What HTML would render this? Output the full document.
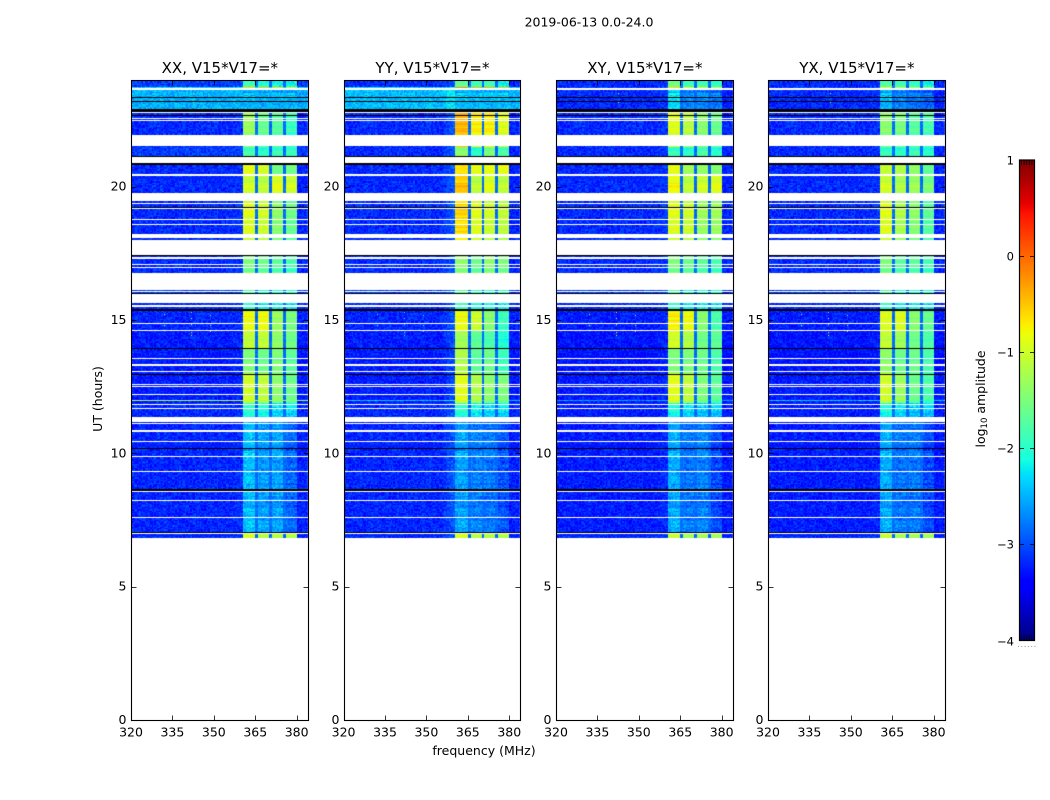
<!DOCTYPE html>
<html lang="en">
<head>
<meta charset="utf-8">
<title>2019-06-13 0.0-24.0</title>
<style>
html,body{margin:0;padding:0;background:#fff;width:1050px;height:800px;overflow:hidden}
#figure{position:relative;width:1050px;height:800px}
canvas{position:absolute;display:block}
svg{position:absolute;left:0;top:0}
text{font-family:"DejaVu Sans","Liberation Sans",sans-serif;fill:#000}
</style>
</head>
<body>
<div id="figure">
<svg id="overlay" width="1050" height="800"></svg>
</div>
<script>
/* ---------- chart values ---------- */
const panelTitles = ['XX, V15*V17=*','YY, V15*V17=*','XY, V15*V17=*','YX, V15*V17=*'];
const freqTicks = [320,335,350,365,380];
const utTicks = [0,5,10,15,20];
const colorbarTicks = [-4,-3,-2,-1,0,1];
const channelWidthMHz = 0.5;
const rowHours = 0.05;
const dataStartUT = 6.825;
const dataEndUT = 24;
const bandStartMHz = [360.5,365.75,370.75,375.75];
const bandEndMHz = [365,370,375,380];
const gapLevel = -2.85;
const shoulderGain = [0.03,0.15,0.05,0.03];

/* top edge (UT) of each observing epoch */
const epochTopUT = [24,23.775,23.69,22.76,21.525,20.88,20.44,19.75,17.4,16.125,15.64,15.41,14.59,13.91,12.975,11.89,11.36,7.0];

/* per epoch: background log10 amplitude, then the four bright sub-bands */
const levelsXX = [
[-3.08,-1.9,-2.1,-2.2,-2.2],[-2.3,-0.6,-0.5,-0.6,-1.0],[-2.5,-2.7,-2.6,-2.7,-2.7],[-3.18,-1.3,-1.6,-1.7,-1.9],
[-3.08,-1.8,-2.0,-1.9,-1.9],[-3.18,-0.9,-1.0,-1.6,-1.6],[-3.18,-1.0,-1.1,-0.9,-1.0],[-3.18,-0.9,-1.0,-1.4,-1.6],
[-3.18,-1.5,-1.6,-1.7,-1.8],[-3.08,-1.8,-2.0,-2.0,-2.0],[-3.18,-2.0,-2.2,-2.2,-2.3],[-3.2,-0.8,-0.8,-1.3,-1.5],
[-3.25,-1.1,-1.1,-1.4,-1.6],[-3.25,-1.5,-1.6,-1.5,-1.7],[-3.25,-1.0,-1.1,-1.4,-1.6],[-3.18,-2.0,-2.1,-2.3,-2.3],
[-3.2,-2.45,-2.6,-2.6,-2.9],[-3.18,-0.9,-1.1,-1.1,-1.1]];
const levelsYY = [
[-3.18,-1.7,-1.9,-1.9,-2.2],[-2.3,-0.2,-0.4,-0.4,-0.5],[-2.45,-2.7,-2.7,-2.7,-2.8],[-3.18,-0.4,-0.7,-0.7,-0.9],
[-3.18,-1.4,-2.0,-1.5,-1.8],[-3.18,-0.7,-0.9,-0.9,-0.9],[-3.18,-0.5,-1.1,-0.9,-1.1],[-3.18,-0.6,-0.9,-1.0,-1.1],
[-3.18,-1.4,-1.6,-1.4,-1.5],[-3.08,-1.7,-1.9,-1.9,-1.9],[-3.18,-1.9,-2.1,-2.1,-2.2],[-3.2,-0.8,-1.0,-1.4,-1.9],
[-3.25,-1.3,-1.7,-1.8,-2.1],[-3.25,-1.2,-1.7,-1.6,-1.9],[-3.25,-0.9,-1.2,-1.4,-1.5],[-3.18,-2.0,-2.2,-2.3,-2.3],
[-3.2,-2.6,-2.75,-2.8,-3.0],[-3.18,-0.9,-1.1,-1.1,-1.1]];
const levelsXY = [
[-3.18,-1.6,-1.9,-1.9,-2.0],[-3.08,-0.6,-0.9,-1.0,-1.0],[-3.18,-2.3,-2.7,-2.7,-2.8],[-3.18,-0.9,-1.1,-1.4,-1.6],
[-3.18,-1.9,-2.0,-1.8,-2.0],[-3.18,-0.9,-1.3,-1.4,-1.5],[-3.18,-0.8,-1.1,-1.0,-0.9],[-3.18,-0.9,-1.0,-1.3,-1.3],
[-3.18,-1.5,-1.6,-1.7,-1.8],[-3.08,-1.8,-2.0,-2.0,-2.0],[-3.18,-2.0,-2.2,-2.2,-2.3],[-3.25,-0.7,-0.8,-1.4,-1.8],
[-3.3,-1.0,-1.2,-1.6,-1.7],[-3.3,-1.5,-1.5,-1.6,-1.8],[-3.25,-0.9,-1.1,-1.5,-1.7],[-3.25,-2.1,-2.3,-2.4,-2.4],
[-3.25,-2.55,-2.8,-2.75,-3.05],[-3.18,-1.0,-1.2,-1.2,-1.2]];
const levelsYX = [
[-3.18,-1.8,-1.9,-2.0,-2.2],[-3.08,-0.9,-1.1,-1.2,-1.2],[-3.18,-2.5,-2.7,-2.8,-2.9],[-3.18,-1.4,-1.5,-1.7,-1.8],
[-3.18,-1.9,-2.0,-1.9,-2.0],[-3.18,-1.1,-1.2,-1.4,-1.7],[-3.18,-1.0,-1.2,-1.3,-1.5],[-3.18,-0.9,-1.2,-1.4,-1.7],
[-3.18,-1.5,-1.7,-1.7,-1.8],[-3.08,-1.8,-2.0,-2.0,-2.0],[-3.18,-2.0,-2.2,-2.2,-2.3],[-3.25,-0.9,-0.9,-1.4,-1.6],
[-3.3,-1.1,-1.3,-1.6,-1.8],[-3.3,-1.4,-1.6,-1.6,-1.8],[-3.25,-1.0,-1.3,-1.6,-1.8],[-3.25,-2.1,-2.3,-2.4,-2.4],
[-3.25,-2.55,-2.8,-2.8,-3.05],[-3.18,-1.0,-1.2,-1.2,-1.2]];

/* flagged time ranges: top UT, bottom UT, w = blank, b = zero amplitude */
const flagRanges = [
[23.689,23.625,'w'],[23.374,23.351,'b'],[23.224,23.201,'b'],[22.913,22.811,'b'],[22.811,22.751,'w'],[22.706,22.68,'b'],
[22.575,22.545,'w'],[22.515,22.485,'w'],[21.938,21.525,'w'],[21.15,21.094,'b'],[21.094,20.876,'w'],[20.876,20.824,'b'],
[20.475,20.4,'w'],[19.751,19.463,'w'],[19.399,19.339,'w'],[19.23,19.204,'b'],[19.204,19.151,'w'],[18.799,18.761,'w'],
[18.6,18.563,'w'],[18.225,18.064,'w'],[18.0,17.438,'w'],[17.438,17.4,'b'],[17.351,17.288,'w'],[17.1,17.063,'w'],
[16.988,16.939,'w'],[16.751,16.125,'w'],[16.088,16.043,'w'],[16.001,15.975,'b'],[15.975,15.638,'w'],[15.555,15.506,'w'],
[15.413,15.349,'b'],[14.899,14.861,'w'],[14.625,14.588,'w'],[13.939,13.913,'b'],[13.564,13.526,'w'],[13.35,13.286,'w'],
[13.088,13.05,'w'],[12.975,12.949,'b'],[12.611,12.574,'w'],[12.525,12.488,'w'],[12.214,12.176,'w'],[11.85,11.813,'w'],
[11.711,11.674,'w'],[11.374,11.186,'w'],[11.149,11.089,'w'],[10.875,10.789,'w'],[10.463,10.425,'w'],[10.189,10.151,'b'],
[9.911,9.874,'w'],[9.338,9.3,'w'],[8.651,8.599,'b'],[8.599,8.55,'w'],[8.25,8.213,'w'],[7.613,7.575,'w'],[7.05,7.001,'b'],[7.001,6.964,'w']];

/* a single interference-heavy row near 12 UT */
const hotRowTopUT = 12.0;
const hotRowBottomUT = 11.94;
const hotRowLevel = [-1.3,-2.4,-2.6,-2.4];

/* isolated interference spots */
const spotFreq = [341.7,341.7,341.7,341.7,341.7,332,332,348.6,348.6,348.6,342.4,342.4];
const spotUT = [15.3,15.075,14.85,14.55,14.44,15.225,14.81,15.19,14.81,14.59,23.51,23.17];
const spotLevel = [-1.2,-2.0,-0.9,-1.2];

/* hand-typed fine-grain texture: the per-cell noise is approximated, not read cell by cell */
const grainTable = [
0.12,-0.31,0.05,0.38,-0.14,-0.42,0.22,0.01,-0.27,0.33,-0.08,0.17,-0.36,0.29,-0.02,0.09,-0.19,0.41,-0.33,0.07,
-0.11,0.26,-0.44,0.15,0.35,-0.24,0.03,-0.06,0.19,-0.38,0.31,-0.16,0.11,0.44,-0.29,-0.04,0.24,-0.21,0.02,0.37,
-0.35,0.13,-0.09,0.28,-0.41,0.06,0.21,-0.26,0.39,-0.13,-0.01,0.16,-0.32,0.08,0.34,-0.18,-0.46,0.25,0.04,-0.23,
0.32,-0.07,0.18,-0.39,0.1,0.27,-0.12];

/* ---------- layout and scales ---------- */
const panelLeft = [131,343.6,556,768];
const panelWidth = 176.7;
const plotTop = 80;
const plotBottom = 720;
const allLevels = [levelsXX,levelsYY,levelsXY,levelsYX];
const slugs = ['xx','yy','xy','yx'];
const SVGNS = 'http://www.w3.org/2000/svg';
const overlay = document.getElementById('overlay');
const figure = document.getElementById('figure');

function xScale(i,f){return panelLeft[i]+(f-320)/64*panelWidth;}
function yScale(u){return plotBottom-u/24*(plotBottom-plotTop);}
function cbarScale(v){return 640.5-(v+4)/5*480.5;}

function lerpStops(xs,ys,t){
  for(let k=1;k<xs.length;k++){
    if(t<=xs[k]){return ys[k-1]+(ys[k]-ys[k-1])*(t-xs[k-1])/(xs[k]-xs[k-1]);}
  }
  return ys[ys.length-1];
}
function jet(v){
  const t=Math.max(0,Math.min(1,(v+4)/5));
  const r=lerpStops([0,0.35,0.66,0.89,1],[0,0,1,1,0.5],t);
  const g=lerpStops([0,0.125,0.375,0.64,0.91,1],[0,0,1,1,0,0],t);
  const b=lerpStops([0,0.11,0.34,0.65,1],[0.5,1,1,0,0],t);
  return 'rgb('+Math.round(r*255)+','+Math.round(g*255)+','+Math.round(b*255)+')';
}
function epochIndex(u){
  let e=0;
  for(let k=0;k<epochTopUT.length;k++){if(u<=epochTopUT[k]){e=k;}}
  return e;
}
function grain(c,r){
  return grainTable[(c*37+r*r*11+c*r*5)%grainTable.length];
}
function cellValue(p,f,c,r,u){
  const row=allLevels[p][epochIndex(u)];
  let bg=row[0];
  if(u<=hotRowTopUT&&u>hotRowBottomUT){bg=hotRowLevel[p];}
  const g=grain(c,r);
  for(let b=0;b<4;b++){
    if(f>=bandStartMHz[b]&&f<bandEndMHz[b]){
      const lvl=Math.max(row[b+1],bg);
      const amp=lvl>-1.75?0.1:(lvl>-2.2?0.3:0.5);
      const stripe=grainTable[(r*7)%grainTable.length]*0.3;
      return lvl+g*amp+stripe;
    }
  }
  if(f>=bandEndMHz[0]&&f<bandStartMHz[3]&&f>360){return Math.max(gapLevel,bg)+g*0.25;}
  if(f>=355&&f<360.5){return bg+shoulderGain[p]*(f-355)/5.5*2+g*0.5;}
  if(f>=380){return bg-0.03+g*0.5;}
  return bg+g*0.55;
}

/* ---------- heatmaps ---------- */
function drawPanel(p){
  const left=Math.round(panelLeft[p]);
  const right=Math.round(panelLeft[p]+panelWidth);
  const cv=document.createElement('canvas');
  
  
  cv.width=right-left+1;
  cv.height=plotBottom-plotTop+2;
  cv.style.left=left+'px';
  cv.style.top=plotTop+'px';
  figure.insertBefore(cv,overlay);
  const ctx=cv.getContext('2d');
  ctx.translate(-left,-plotTop);
  const nRows=Math.round((dataEndUT-dataStartUT)/rowHours);
  const nChans=Math.round(64/channelWidthMHz);
  for(let r=0;r<nRows;r++){
    const uTop=dataEndUT-r*rowHours;
    const uBot=uTop-rowHours;
    const y0=Math.round(yScale(uTop));
    const y1=Math.round(yScale(Math.max(uBot,dataStartUT)));
    for(let c=0;c<nChans;c++){
      const f=320+c*channelWidthMHz;
      const x0=Math.round(xScale(p,f));
      const x1=Math.round(xScale(p,f+channelWidthMHz));
      ctx.fillStyle=jet(cellValue(p,f,c,r,uTop-rowHours/2));
      ctx.fillRect(x0,y0,x1-x0,y1-y0);
    }
  }
  for(let s=0;s<spotFreq.length;s++){
    const sx=Math.round(xScale(p,spotFreq[s]));
    const sy=Math.round(yScale(spotUT[s]));
    ctx.fillStyle=jet(spotLevel[p]);
    ctx.fillRect(sx,sy,1,1);
  }
  flagRanges.forEach(function(fl){
    const y0=Math.round(yScale(fl[0]));
    const y1=Math.max(y0+1,Math.round(yScale(fl[1])));
    ctx.fillStyle=fl[2]==='w'?'#fff':'#000';
    ctx.fillRect(left,y0,right-left+1,y1-y0);
  });
}

/* ---------- svg helpers ---------- */
function tickLine(x1,y1,x2,y2,width){
  const l=document.createElementNS(SVGNS,'line');
  l.setAttribute('x1',x1);l.setAttribute('y1',y1);l.setAttribute('x2',x2);l.setAttribute('y2',y2);
  l.setAttribute('stroke','#000');
  l.setAttribute('stroke-width',width||0.8);
  
  
  overlay.appendChild(l);
}
function label(str,x,y,size,anchor,name){
  const t=document.createElementNS(SVGNS,'text');
  t.setAttribute('x',x);t.setAttribute('y',y);
  t.setAttribute('font-size',size);
  t.setAttribute('text-anchor',anchor);
  
  
  t.textContent=str;
  overlay.appendChild(t);
  return t;
}
function fmtTick(v){return v<0?'\u2212'+Math.abs(v):String(v);}

function drawAxes(p){
  const x0=Math.round(panelLeft[p])+0.5;
  const x1=Math.round(panelLeft[p]+panelWidth)+0.5;
  const yT=plotTop+0.5;
  const yB=plotBottom+0.5;
  const frame=document.createElementNS(SVGNS,'rect');
  frame.setAttribute('x',x0);frame.setAttribute('y',yT);
  frame.setAttribute('width',x1-x0);frame.setAttribute('height',yB-yT);
  frame.setAttribute('fill','none');
  frame.setAttribute('stroke','#000');
  frame.setAttribute('stroke-width','1.1');
  
  
  overlay.appendChild(frame);
  freqTicks.forEach(function(f){
    const x=Math.round(xScale(p,f))+0.5;
    if(f>320){
      tickLine(x,yB,x,yB-5);
      tickLine(x,yT,x,yT+5);
    }
    label(String(f),xScale(p,f),736.5,12.5,'middle','x-tick-label');
  });
  utTicks.forEach(function(u){
    const y=Math.round(yScale(u))+0.5;
    if(u>0){
      tickLine(x0,y,x0+5,y);
      tickLine(x1,y,x1-5,y);
    }
    label(String(u),x0-5,yScale(u)+4,12.5,'end','y-tick-label');
  });
  label(panelTitles[p],panelLeft[p]+panelWidth/2+0.5,73,15,'middle','panel-title-'+slugs[p]);
}

function drawColorbar(){
  const cv=document.createElement('canvas');
  
  
  cv.width=16;cv.height=481;
  cv.style.left='1019px';cv.style.top='160px';
  figure.insertBefore(cv,overlay);
  const ctx=cv.getContext('2d');
  for(let y=0;y<481;y++){
    ctx.fillStyle=jet(1-y/480*5);
    ctx.fillRect(0,y,16,1);
  }
  const frame=document.createElementNS(SVGNS,'rect');
  frame.setAttribute('x',1019.5);frame.setAttribute('y',160);
  frame.setAttribute('width',15);frame.setAttribute('height',480.5);
  frame.setAttribute('fill','none');
  frame.setAttribute('stroke','#000');
  frame.setAttribute('stroke-width','1.2');
  
  
  overlay.appendChild(frame);
  colorbarTicks.forEach(function(v){
    const y=Math.round(cbarScale(v))+0.5;
    if(v>-4&&v<1){
      tickLine(1019.5,y,1024,y);
      tickLine(1034.5,y,1030,y);
    }
    label(fmtTick(v),1014,y+4,11.5,'end','colorbar-tick-label');
  });
  for(let k=0;k<6;k++){
    const mx=1021.5+k*2.6;
    tickLine(mx,160,mx,165);
    tickLine(mx,640.5,mx,635.5);
    const dot=document.createElementNS(SVGNS,'rect');
    dot.setAttribute('x',1018+k*3.3);dot.setAttribute('y',646);
    dot.setAttribute('width',1);dot.setAttribute('height',1);
    dot.setAttribute('fill','#999');
    
    
    overlay.appendChild(dot);
  }
  const t=label('',985,399,12.5,'middle','colorbar-title');
  t.setAttribute('transform','rotate(-90 985 399)');
  const a=document.createElementNS(SVGNS,'tspan');a.textContent='log';t.appendChild(a);
  const b=document.createElementNS(SVGNS,'tspan');b.textContent='10';b.setAttribute('font-size','8.5');b.setAttribute('dy','2');t.appendChild(b);
  const c=document.createElementNS(SVGNS,'tspan');c.textContent=' amplitude';c.setAttribute('dy','-2');t.appendChild(c);
}

for(let p=0;p<4;p++){drawPanel(p);}
for(let p=0;p<4;p++){drawAxes(p);}
drawColorbar();
label('2019-06-13 0.0-24.0',589,26.5,12.5,'middle','figure-title');
label('frequency (MHz)',484,755,12.5,'middle','x-axis-title');
const yTitle=label('UT (hours)',102,399,12.5,'middle','y-axis-title');
yTitle.setAttribute('transform','rotate(-90 102 399)');
</script>
</body>
</html>
